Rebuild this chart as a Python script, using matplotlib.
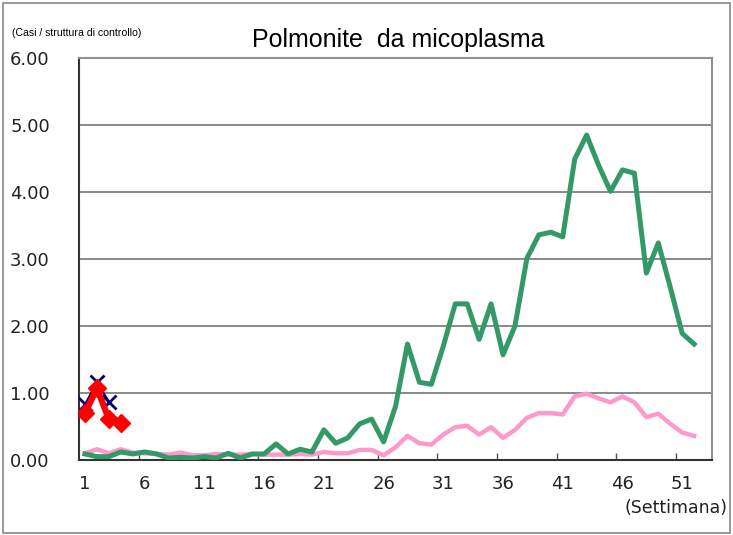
import matplotlib
matplotlib.use("Agg")
import matplotlib.pyplot as plt
from matplotlib.patches import Rectangle

weeks = list(range(1, 54))
tick_weeks = [1, 6, 11, 16, 21, 26, 31, 36, 41, 46, 51]

green = [0.09, 0.05, 0.05, 0.12, 0.09, 0.12, 0.09, 0.03, 0.04, 0.03,
         0.05, 0.03, 0.10, 0.03, 0.09, 0.09, 0.24, 0.09, 0.16, 0.12,
         0.45, 0.25, 0.33, 0.54, 0.61, 0.27, 0.80, 1.73, 1.16, 1.13,
         1.70, 2.33, 2.33, 1.80, 2.33, 1.57, 2.00, 3.01, 3.36, 3.40,
         3.33, 4.49, 4.85, 4.40, 4.01, 4.33, 4.28, 2.79, 3.24, 2.58,
         1.89, 1.73]
pink = [0.10, 0.16, 0.10, 0.16, 0.11, 0.10, 0.09, 0.08, 0.11, 0.07,
        0.07, 0.09, 0.08, 0.08, 0.09, 0.08, 0.08, 0.08, 0.09, 0.08,
        0.12, 0.10, 0.10, 0.15, 0.15, 0.07, 0.19, 0.36, 0.25, 0.23,
        0.38, 0.49, 0.51, 0.38, 0.49, 0.33, 0.45, 0.63, 0.70, 0.70,
        0.68, 0.95, 0.99, 0.92, 0.86, 0.95, 0.86, 0.64, 0.69, 0.54,
        0.41, 0.36]
blue = [0.83, 1.16, 0.87]
red = [0.70, 1.07, 0.61, 0.55]

yticks = [0, 1, 2, 3, 4, 5, 6]

fig = plt.figure(figsize=(7.33, 5.35), dpi=100)
ax = fig.add_axes([0.1078, 0.1402, 0.8636, 0.7514])

ax.plot(weeks[:len(pink)], pink, color="#FF99CC", lw=3.2, solid_joinstyle="round", zorder=3)
ax.plot(weeks[:len(green)], green, color="#339966", lw=3.6, solid_joinstyle="round", zorder=4)
ax.plot(weeks[:len(blue)], blue, color="#000080", lw=1.5, marker="x", ms=10, mew=2, zorder=5)
ax.plot(weeks[:len(red)], red, color="#FF0000", lw=4.5, marker="D", ms=9, zorder=6)

ax.set_xlim(0.5, 53.5)
ax.set_ylim(0, 6)
ax.set_yticks(yticks)
ax.set_yticklabels([f"{v:.2f}" for v in yticks])
ax.set_xticks(tick_weeks)
ax.set_xticklabels([str(w) for w in tick_weeks])
ax.set_xticks([w - 0.5 for w in tick_weeks[1:]], minor=True)

ax.grid(axis="y", color="#808080", lw=1.3)
ax.set_axisbelow(True)
ax.tick_params(axis="x", which="major", length=0, pad=11, labelsize=13, labelcolor="#222222")
ax.tick_params(axis="x", which="minor", direction="in", length=5, color="#555555", width=1)
ax.tick_params(axis="y", length=0, pad=21, labelsize=13, labelcolor="#222222")

for s in ["top", "right"]:
    ax.spines[s].set_color("#909090")
    ax.spines[s].set_linewidth(1.5)
for s in ["left", "bottom"]:
    ax.spines[s].set_color("#333333")
    ax.spines[s].set_linewidth(1.5)

fig.text(0.543, 0.925, "Polmonite  da micoplasma", ha="center", va="center",
         fontsize=18, family=["Liberation Sans", "DejaVu Sans"])
fig.text(0.016, 0.938, "(Casi / struttura di controllo)", ha="left", va="center",
         fontsize=7.6, family=["Liberation Sans", "DejaVu Sans"])
fig.text(0.993, 0.050, "(Settimana)", ha="right", va="center", fontsize=12.5,
         color="#222222", family=["DejaVu Sans"])

fig.patches.append(Rectangle((0.004, 0.004), 0.992, 0.990, transform=fig.transFigure,
                             fill=False, edgecolor="#888888", lw=1.2))

fig.savefig("out.png", dpi=100)
